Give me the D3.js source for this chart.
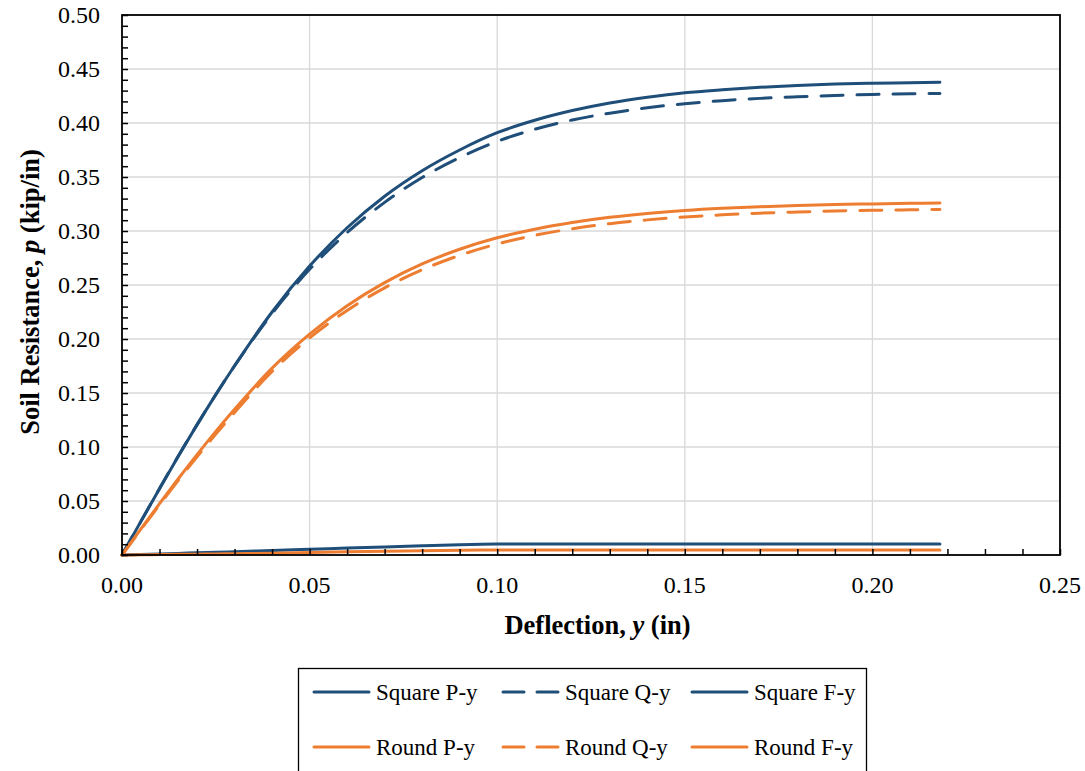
<!DOCTYPE html>
<html>
<head>
<meta charset="utf-8">
<script src="https://cdn.jsdelivr.net/npm/d3@7"></script>
<style>
  html, body { margin: 0; padding: 0; background: #fff; }
  svg { display: block; font-family: "Liberation Serif", "Times New Roman", serif; }
</style>
</head>
<body>
<svg id="chart" width="1085" height="771"></svg>
<script>
// ---- Data ----
const deflection = [0, 0.005, 0.01, 0.015, 0.02, 0.025, 0.03, 0.04, 0.05, 0.06, 0.07, 0.08, 0.09,
  0.10, 0.11, 0.12, 0.13, 0.14, 0.15, 0.16, 0.17, 0.18, 0.19, 0.20, 0.21, 0.218];

const squarePy = [0, 0.0309, 0.0614, 0.0914, 0.1205, 0.1485, 0.1752, 0.2250, 0.2675, 0.3030, 0.3322,
  0.3558, 0.3750, 0.3910, 0.4025, 0.4115, 0.4185, 0.4238, 0.4280, 0.4308, 0.4331, 0.4348, 0.4360,
  0.4368, 0.4373, 0.4377];
const squareQy = [0, 0.0309, 0.0616, 0.0916, 0.1207, 0.1486, 0.1751, 0.2236, 0.2645, 0.2985, 0.3265,
  0.3495, 0.3680, 0.3830, 0.3942, 0.4028, 0.4091, 0.4141, 0.4179, 0.4207, 0.4228, 0.4243, 0.4255,
  0.4264, 0.4270, 0.4274];
const squareFy = [0, 0.0005, 0.0010, 0.0015, 0.0020, 0.0025, 0.0030, 0.0042, 0.0053, 0.0064, 0.0075,
  0.0086, 0.0096, 0.0102, 0.0103, 0.0103, 0.0103, 0.0103, 0.0103, 0.0103, 0.0103, 0.0103, 0.0103,
  0.0103, 0.0103, 0.0103];
const roundPy = [0, 0.0239, 0.0475, 0.0706, 0.0930, 0.1145, 0.1349, 0.1730, 0.2045, 0.2308, 0.2522,
  0.2695, 0.2831, 0.2937, 0.3017, 0.3079, 0.3127, 0.3163, 0.3190, 0.3210, 0.3225, 0.3236, 0.3245,
  0.3251, 0.3256, 0.3259];
const roundQy = [0, 0.0233, 0.0464, 0.0691, 0.0910, 0.1120, 0.1320, 0.1700, 0.2010, 0.2265, 0.2474,
  0.2641, 0.2775, 0.2880, 0.2960, 0.3021, 0.3068, 0.3103, 0.3130, 0.3150, 0.3165, 0.3176, 0.3185,
  0.3191, 0.3196, 0.3199];
const roundFy = [0, 0.0002, 0.0004, 0.0006, 0.0008, 0.0010, 0.0012, 0.0017, 0.0023, 0.0029, 0.0034,
  0.0039, 0.0044, 0.0046, 0.0047, 0.0047, 0.0047, 0.0047, 0.0047, 0.0047, 0.0047, 0.0047, 0.0047,
  0.0047, 0.0047, 0.0047];

const seriesNames = ["Square P-y", "Square Q-y", "Square F-y", "Round P-y", "Round Q-y", "Round F-y"];
const xTickValues = [0, 0.05, 0.10, 0.15, 0.20, 0.25];
const yTickValues = [0, 0.05, 0.10, 0.15, 0.20, 0.25, 0.30, 0.35, 0.40, 0.45, 0.50];
const xTitle = ["Deflection, ", "y", " (in)"];
const yTitle = ["Soil Resistance, ", "p", " (kip/in)"];

// ---- Styles ----
const BLUE = "#1f4e79", ORANGE = "#ed7d31";
const styles = {
  "Square P-y": { color: BLUE, dash: null },
  "Square Q-y": { color: BLUE, dash: "22,14" },
  "Square F-y": { color: BLUE, dash: null },
  "Round P-y": { color: ORANGE, dash: null },
  "Round Q-y": { color: ORANGE, dash: "22,14" },
  "Round F-y": { color: ORANGE, dash: null }
};
const valuesByName = {
  "Square P-y": squarePy, "Square Q-y": squareQy, "Square F-y": squareFy,
  "Round P-y": roundPy, "Round Q-y": roundQy, "Round F-y": roundFy
};

const svg = d3.select("#chart");
const pLeft = 122, pRight = 1060, pTop = 15, pBottom = 555;

const x = d3.scaleLinear().domain([0, 0.25]).range([pLeft, pRight]);
const y = d3.scaleLinear().domain([0, 0.5]).range([pBottom, pTop]);

// gridlines
svg.append("g").selectAll("line").data(xTickValues.slice(1, -1)).join("line")
  .attr("x1", d => x(d)).attr("x2", d => x(d)).attr("y1", pTop).attr("y2", pBottom)
  .attr("stroke", "#d9d9d9").attr("stroke-width", 1.3);
svg.append("g").selectAll("line").data(yTickValues.slice(1, -1)).join("line")
  .attr("y1", d => y(d)).attr("y2", d => y(d)).attr("x1", pLeft).attr("x2", pRight)
  .attr("stroke", "#d9d9d9").attr("stroke-width", 1.3);

// lines
const line = d3.line().x(d => x(d[0])).y(d => y(d[1])).curve(d3.curveMonotoneX);
const drawOrder = ["Square F-y", "Round F-y", "Square P-y", "Square Q-y", "Round P-y", "Round Q-y"];
drawOrder.forEach(name => {
  const vals = valuesByName[name];
  const pts = deflection.map((dx, i) => [dx, vals[i]]);
  svg.append("path").datum(pts)
    .attr("d", line)
    .attr("fill", "none")
    .attr("stroke", styles[name].color)
    .attr("stroke-width", 3)
    .attr("stroke-linecap", "round")
    .attr("stroke-linejoin", "round")
    .attr("stroke-dasharray", styles[name].dash);
});

// axes (ticks inside)
const fmt = d3.format(".2f");
const xAxis = d3.axisBottom(x).tickValues(d3.range(0, 0.2501, 0.01)).tickSize(-6).tickFormat("");
const yAxis = d3.axisLeft(y).tickValues(d3.range(0, 0.5001, 0.01)).tickSize(-6).tickFormat("");
const gx = svg.append("g").attr("transform", `translate(0,${pBottom})`).call(xAxis);
const gy = svg.append("g").attr("transform", `translate(${pLeft},0)`).call(yAxis);
[gx, gy].forEach(g => {
  g.select(".domain").remove();
  g.selectAll(".tick line").attr("stroke", "#000").attr("stroke-width", 1.5);
});

// frame
svg.append("rect").attr("x", pLeft).attr("y", pTop).attr("width", pRight - pLeft).attr("height", pBottom - pTop)
  .attr("fill", "none").attr("stroke", "#000").attr("stroke-width", 1.8);

// tick labels
svg.append("g").selectAll("text").data(xTickValues).join("text")
  .attr("x", d => x(d)).attr("y", pBottom + 38)
  .attr("text-anchor", "middle").attr("font-size", 24).attr("fill", "#000")
  .text(d => fmt(d));
svg.append("g").selectAll("text").data(yTickValues).join("text")
  .attr("x", pLeft - 22).attr("y", d => y(d) + 8)
  .attr("text-anchor", "end").attr("font-size", 24).attr("fill", "#000")
  .text(d => fmt(d));

// axis titles
const xt = svg.append("text").attr("x", 597.5).attr("y", 634)
  .attr("text-anchor", "middle").attr("font-size", 26.5).attr("font-weight", "bold").attr("fill", "#000");
xt.append("tspan").text(xTitle[0]);
xt.append("tspan").attr("font-style", "italic").text(xTitle[1]);
xt.append("tspan").text(xTitle[2]);

const yt = svg.append("text").attr("transform", `translate(39,292) rotate(-90)`)
  .attr("text-anchor", "middle").attr("font-size", 26.5).attr("font-weight", "bold").attr("fill", "#000");
yt.append("tspan").text(yTitle[0]);
yt.append("tspan").attr("font-style", "italic").text(yTitle[1]);
yt.append("tspan").text(yTitle[2]);

// legend
const lg = svg.append("g");
lg.append("rect").attr("x", 298.5).attr("y", 668.5).attr("width", 568).attr("height", 120)
  .attr("fill", "#fff").attr("stroke", "#000").attr("stroke-width", 1.3);
const colX = [313, 502, 691];
const rowY = [692, 747];
seriesNames.forEach((name, i) => {
  const cx = colX[i % 3], cy = rowY[Math.floor(i / 3)];
  lg.append("line").attr("x1", cx + 1).attr("x2", cx + 56).attr("y1", cy).attr("y2", cy)
    .attr("stroke", styles[name].color).attr("stroke-width", 3)
    .attr("stroke-linecap", "round")
    .attr("stroke-dasharray", styles[name].dash ? "21,13" : null);
  lg.append("text").attr("x", cx + 63).attr("y", cy + 8)
    .attr("font-size", 23).attr("fill", "#000").text(name);
});
</script>
</body>
</html>
